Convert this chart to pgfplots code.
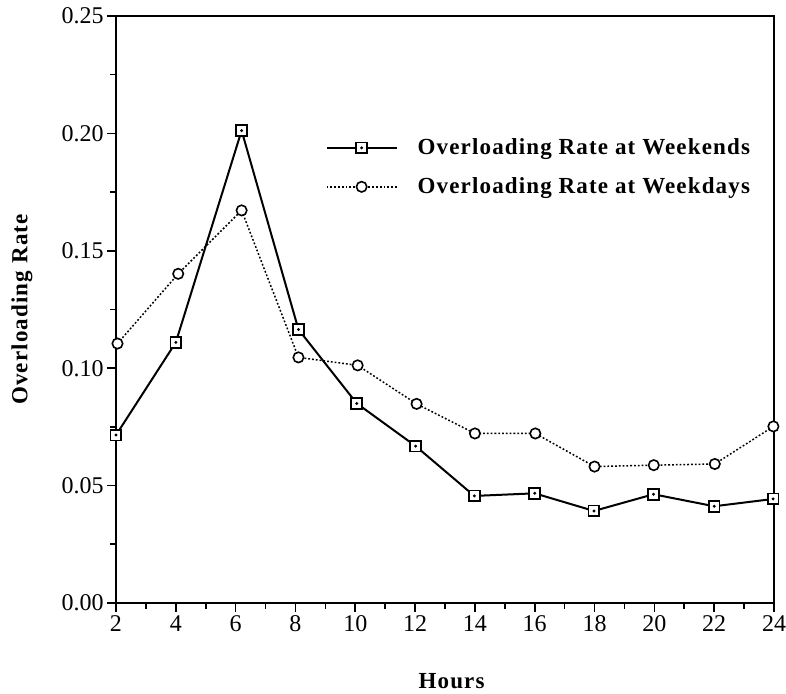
\documentclass[border=0pt]{standalone}
\usepackage{fontspec}
\setmainfont{Liberation Serif}
\newfontfamily\lblfont[LetterSpace=5]{Liberation Serif}
\usepackage{pgfplots}
\pgfplotsset{compat=1.18}
\pgfdeclareplotmark{sqdot}{%
  \pgfpathrectangle{\pgfpoint{-\pgfplotmarksize}{-\pgfplotmarksize}}{\pgfpoint{2\pgfplotmarksize}{2\pgfplotmarksize}}%
  \pgfusepathqfillstroke
  \pgfscope
  \pgfsetfillcolor{black}%
  \pgfpathcircle{\pgfpointorigin}{0.3\pgfplotmarksize}%
  \pgfusepathqfill
  \endpgfscope
}
\begin{document}
\begin{tikzpicture}
\begin{axis}[
  scale only axis, width=329pt, height=293.5pt,
  xmin=2, xmax=24, ymin=0, ymax=0.25,
  xtick={2,4,6,8,10,12,14,16,18,20,22,24},
  ytick={0,0.05,0.1,0.15,0.2,0.25},
  minor x tick num=1, minor y tick num=1,
  tick align=outside, tick pos=left,
  major tick length=4.5pt, minor tick length=3pt,
  axis line style={line width=1pt},
  every tick/.style={black, line width=0.8pt},
  /pgf/number format/assume math mode=true,
  ticklabel style={font=\fontsize{12}{14}\selectfont},
  yticklabel style={inner xsep=1.5pt, /pgf/number format/fixed, /pgf/number format/fixed zerofill, /pgf/number format/precision=2},
  xticklabel style={inner ysep=1.5pt},
  xlabel={Hours}, ylabel={Overloading Rate},
  label style={font=\lblfont\bfseries\fontsize{11.5}{13}\selectfont},
  x label style={at={(axis description cs:0.51,0)}, yshift=-39pt, anchor=center},
  y label style={at={(axis description cs:-0.1429,0.5)}, anchor=center},
  legend style={at={(0.318,0.799)}, anchor=north west, draw=none, fill=none,
    font=\lblfont\bfseries\fontsize{11.5}{13}\selectfont, row sep=6pt,
    inner sep=0pt, nodes={inner xsep=10pt}},
  legend cell align=left,
  legend image code/.code={%
    \draw[mark repeat=2, mark phase=2, #1] plot coordinates {(0pt,0pt) (17.5pt,0pt) (35pt,0pt)};},
]
\addplot[black, line width=1pt, mark=sqdot, mark size=2.7pt, mark options={fill=white, line width=0.9pt}]
  coordinates {(2,0.0715) (4,0.111) (6.2,0.2012) (8.1,0.1165) (10.05,0.085) (12.02,0.0668)
  (13.98,0.0456) (16,0.0467) (17.98,0.0392) (19.97,0.0463) (22,0.0412) (23.97,0.0443)};
\addlegendentry{Overloading Rate at Weekends}
\addplot[black, line width=0.75pt, dash pattern=on 0.9pt off 1pt, mark=*, mark size=2.6pt, mark options={solid, fill=white, draw=black, line width=0.8pt}]
  coordinates {(2.05,0.1105) (4.08,0.1402) (6.2,0.1672) (8.1,0.1046) (10.08,0.1012) (12.05,0.0848)
  (14,0.0722) (16.02,0.0722) (18,0.0581) (19.98,0.0587) (22.02,0.0592) (23.98,0.0752)};
\addlegendentry{Overloading Rate at Weekdays}
\end{axis}
\pgfresetboundingbox
\path ([shift={(-58pt,-45.5pt)}]current axis.south west) rectangle ([shift={(6pt,8pt)}]current axis.north east);
\end{tikzpicture}
\end{document}
